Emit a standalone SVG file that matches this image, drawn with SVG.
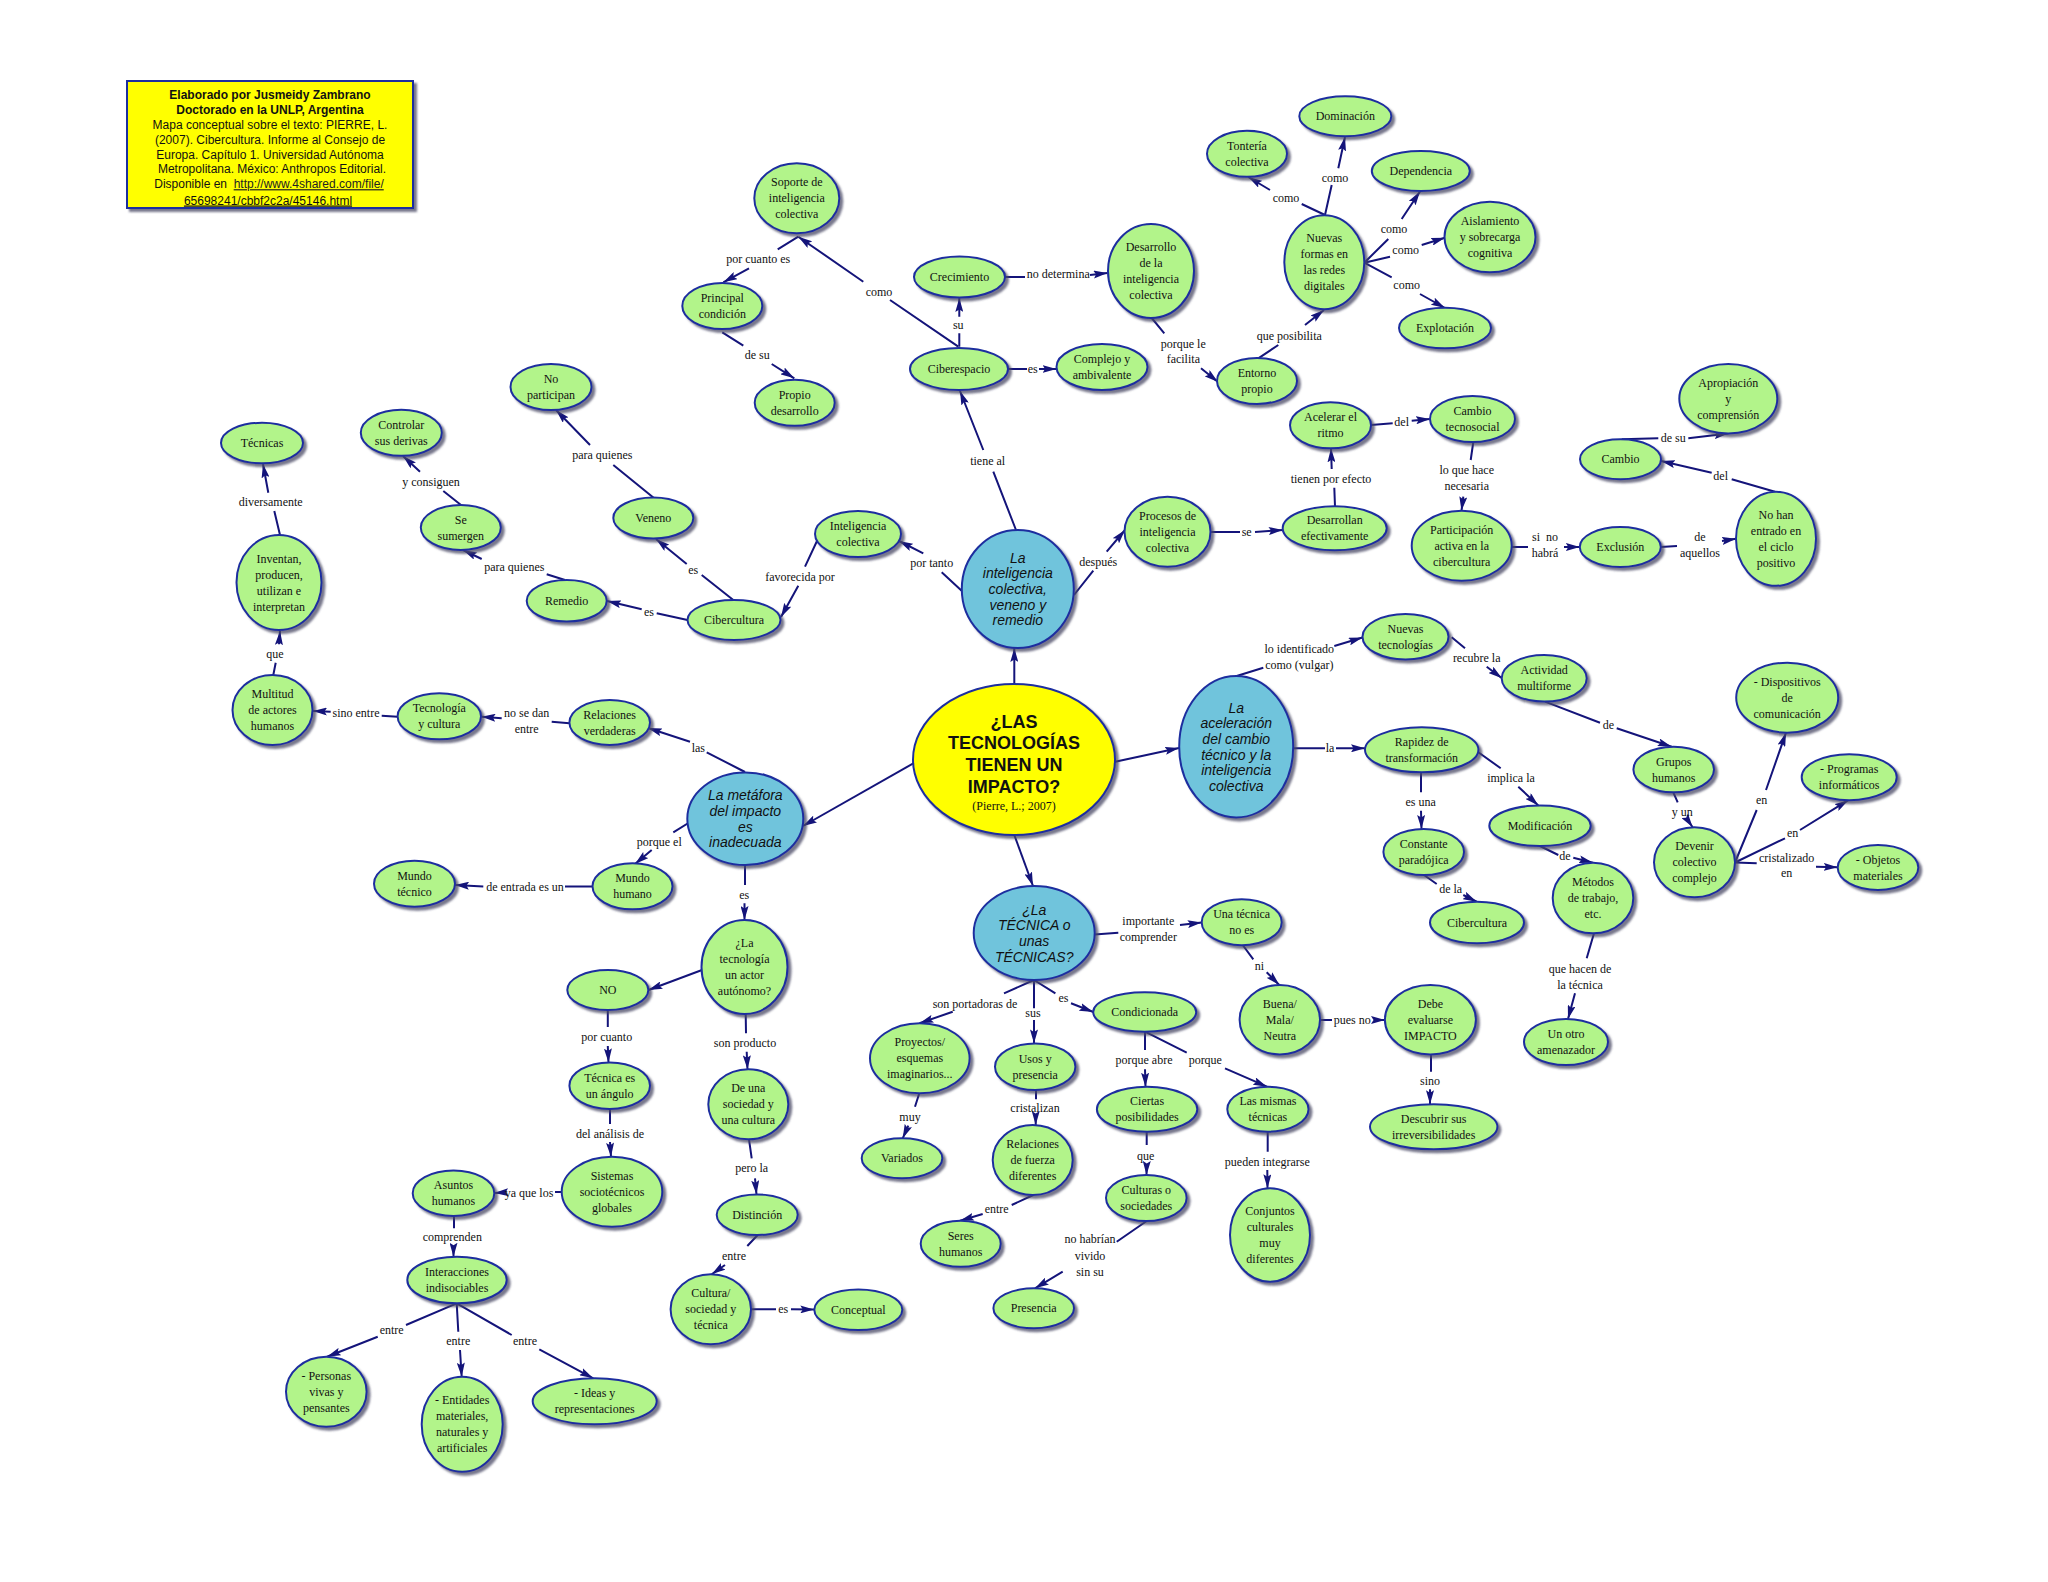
<svg xmlns="http://www.w3.org/2000/svg" width="2048" height="1582" viewBox="0 0 2048 1582">
<defs>
<filter id="sh" x="-20%" y="-20%" width="150%" height="150%"><feDropShadow dx="3" dy="3" stdDeviation="1.3" flood-color="#4a4a66" flood-opacity="0.75"/></filter>
<marker id="ar" viewBox="0 0 14 8" refX="14" refY="4" markerWidth="14" markerHeight="8" markerUnits="userSpaceOnUse" orient="auto"><path d="M0,0 L14,4 L0,8 L2.5,4 z" fill="#14147a"/></marker>
</defs>
<style>
.n ellipse{fill:#b2f48a;stroke:#1f2f9f;stroke-width:2;filter:url(#sh)}
.b ellipse{fill:#70c4dc}
.y ellipse{fill:#ffff00}
.n text{font-family:"Liberation Serif","Times New Roman",serif;font-size:12px;text-anchor:middle;fill:#111}
.b text{font-family:"Liberation Sans",Arial,sans-serif;font-style:italic;font-size:14px}
.y text{font-family:"Liberation Sans",Arial,sans-serif;font-weight:bold;font-size:18px}
.y text.cit{font-family:"Liberation Serif",serif;font-weight:normal;font-size:12px}
#connectors path{fill:none;stroke:#14147a;stroke-width:2;marker-end:url(#ar)}
#connectors text{font-family:"Liberation Serif","Times New Roman",serif;font-size:12px;text-anchor:middle;fill:#111}
#title text{font-family:"Liberation Sans",Arial,sans-serif;font-size:12px;text-anchor:middle;fill:#111}
</style>
<rect width="2048" height="1582" fill="#ffffff"/>
<g id="title">
<rect x="127" y="81" width="286" height="127" fill="#ffff00" stroke="#1f2f9f" stroke-width="2" filter="url(#sh)"/>
<text x="270" y="98.8" font-weight="bold">Elaborado por Jusmeidy Zambrano</text>
<text x="270" y="113.8" font-weight="bold">Doctorado en la UNLP, Argentina</text>
<text x="270" y="128.5">Mapa conceptual sobre el texto: PIERRE, L.</text>
<text x="270" y="143.5">(2007). Cibercultura. Informe al Consejo de</text>
<text x="270" y="158.5">Europa. Capítulo 1. Universidad Autónoma</text>
<text x="272" y="173.2">Metropolitana. México: Anthropos Editorial.</text>
<text x="269" y="188.2">Disponible en&#160;&#160;<tspan text-decoration="underline" fill="#222">http://www.4shared.com/file/</tspan></text>
<text x="268" y="204.5" text-decoration="underline" fill="#222">65698241/cbbf2c2a/45146.html</text>
</g>
<g id="connectors">
<path d="M958.3,346.7 L890,300 M863.3,281.7 L798.3,236.7"/><text x="879" y="295.7">como</text>
<path d="M798.3,236.7 L777.7,249.3 M749,268.3 L723.3,282.3"/><text x="758.3" y="263.3">por cuanto es</text>
<path d="M722.3,332.3 L743.3,345.7 M771.7,364 L794.3,378.3"/><text x="757.3" y="359">de su</text>
<path d="M959.3,346.7 L959.3,333.3 M959.3,316.7 L959.3,298"/><text x="958.3" y="329">su</text>
<path d="M1005,277 L1025,277 M1090,275 L1107.5,273"/><text x="1058.3" y="278.3">no determina</text>
<path d="M1008,369 L1027,369 M1039,369 L1056.5,369"/><text x="1032.7" y="373">es</text>
<path d="M1151.7,318 L1164.3,333.3 M1201,368.3 L1218,382"/><text x="1183.3" y="348">porque le<tspan x="1183.3" dy="15">facilita</tspan></text>
<path d="M1258.3,358.3 L1278.3,345 M1305,325 L1324,310"/><text x="1289.3" y="339.7">que posibilita</text>
<path d="M1325,215 L1301.7,204 M1270,190 L1248.3,177"/><text x="1286" y="202.3">como</text>
<path d="M1325,215 L1331.7,185 M1338.3,168.3 L1345,137"/><text x="1335" y="182.3">como</text>
<path d="M1364.3,262.7 L1388.3,239 M1401.7,219 L1420,191.5"/><text x="1394" y="233.3">como</text>
<path d="M1364.3,262.7 L1390,256.7 M1421.7,245 L1445,237.7"/><text x="1405.7" y="254.3">como</text>
<path d="M1364.3,262.7 L1391.7,277.3 M1420,294 L1445,308"/><text x="1406.7" y="289">como</text>
<path d="M1016,530 L993.3,471.7 M983.3,450 L960,391"/><text x="987.7" y="465">tiene al</text>
<path d="M963,592 L941.7,572.3 M923.3,553.3 L899,541"/><text x="931.7" y="567.3">por tanto</text>
<path d="M817,541 L805,566.7 M798.3,585.7 L781,617"/><text x="800" y="580.7">favorecida por</text>
<path d="M733.3,600 L701.7,575 M686.7,564 L656,539"/><text x="693.3" y="574">es</text>
<path d="M687.5,620 L656.7,613.3 M641.7,609.3 L607,601"/><text x="649" y="615.7">es</text>
<path d="M653.3,497.5 L613.3,465 M590,445 L556,410"/><text x="602.3" y="459">para quienes</text>
<path d="M565,580 L546.7,574.3 M481.7,559 L463,550"/><text x="514.3" y="571.3">para quienes</text>
<path d="M461,505 L443.3,491 M420,471.7 L403,456"/><text x="431" y="486">y consiguen</text>
<path d="M280,535 L274.3,511 M268.3,492.7 L263,464"/><text x="270.7" y="505.7">diversamente</text>
<path d="M273.3,675 L275.7,662.7 M279,644.3 L280,631"/><text x="275" y="658.3">que</text>
<path d="M397.7,716.7 L381.7,715.7 M330.7,711.7 L313,711"/><text x="356" y="717.3">sino entre</text>
<path d="M569.3,723.3 L551.7,721.7 M501.7,718.3 L481.5,716.7"/><text x="526.7" y="717">no se dan<tspan x="526.7" dy="16">entre</tspan></text>
<path d="M745,772 L706.7,752.3 M690,741.7 L648,728"/><text x="698.3" y="752.3">las</text>
<path d="M913.3,763.3 L803,826"/>
<path d="M690,822 L673.3,832.3 M651.7,850 L635,864"/><text x="659.3" y="845.7">porque el</text>
<path d="M592.5,886.5 L565,886.5 M483.3,886.5 L455,885"/><text x="525" y="890.7">de entrada es un</text>
<path d="M745,865 L745,885 M744.5,903.3 L744.5,920"/><text x="744.3" y="899">es</text>
<path d="M702,970 L648.5,990"/>
<path d="M607.8,1010 L607.8,1027 M607.8,1046 L608.5,1062.4"/><text x="606.7" y="1041.3">por cuanto</text>
<path d="M610,1109 L610,1124 M610,1142 L611,1156.7"/><text x="610" y="1138">del análisis de</text>
<path d="M561.7,1192 L555,1192 M503,1192.5 L494.3,1193"/><text x="529" y="1196.7">ya que los</text>
<path d="M454,1216 L454,1228.3 M453.5,1246.7 L453.5,1256.7"/><text x="452.3" y="1241">comprenden</text>
<path d="M456.7,1303.3 L406,1325 M377.7,1336.7 L327,1356.7"/><text x="391.7" y="1334">entre</text>
<path d="M456.7,1303.3 L458.3,1331.7 M460,1350 L461.7,1376.7"/><text x="458.3" y="1345">entre</text>
<path d="M456.7,1303.3 L511.7,1335 M539.3,1349.3 L593.3,1378.3"/><text x="525" y="1345">entre</text>
<path d="M745.7,1014 L746,1033.3 M746.7,1051.7 L747.5,1069.3"/><text x="745" y="1047.3">son producto</text>
<path d="M749,1139.3 L751.7,1158.3 M755,1178.3 L756.5,1194.4"/><text x="751.7" y="1172.3">pero la</text>
<path d="M757.7,1235 L747.3,1246 M725,1265 L711.7,1274.3"/><text x="734" y="1260">entre</text>
<path d="M751,1309.3 L776,1309.3 M791,1309.3 L814.3,1309.5"/><text x="783.3" y="1313.3">es</text>
<path d="M1014.3,835 L1033,886"/>
<path d="M1114,762 L1179,748"/>
<path d="M1014.3,684 L1014.3,648"/>
<path d="M1074,595 L1093.3,570.7 M1106.7,551.7 L1125,530"/><text x="1098.3" y="566.3">después</text>
<path d="M1210.5,532 L1240,532 M1255,532 L1282.7,530"/><text x="1246.7" y="536.3">se</text>
<path d="M1335,506.3 L1334.3,487.7 M1331.7,469 L1331,448.3"/><text x="1331" y="482.7">tienen por efecto</text>
<path d="M1371,425 L1392.7,423.3 M1411.7,420.7 L1430,419"/><text x="1401.7" y="425.7">del</text>
<path d="M1473.3,442 L1470.7,460 M1463.3,496.7 L1461.5,510.7"/><text x="1466.7" y="474">lo que hace<tspan x="1466.7" dy="16.3">necesaria</tspan></text>
<path d="M1511.7,547 L1528,547 M1564,547 L1579.8,547"/><text x="1545" y="540.7">si&#160;&#160;no<tspan x="1545" dy="16.6">habrá</tspan></text>
<path d="M1660.8,547 L1677,546 M1722,541 L1736,538.8"/><text x="1700" y="540.7">de<tspan x="1700" dy="16.6">aquellos</tspan></text>
<path d="M1775,491.7 L1731.7,479.3 M1711.7,472.7 L1661,461"/><text x="1720.7" y="479.7">del</text>
<path d="M1621.7,439.3 L1658.3,438.3 M1688.3,438.3 L1728.3,433.5"/><text x="1673.3" y="442.3">de su</text>
<path d="M1236.7,676 L1263.3,667.7 M1334.3,646 L1362.5,637.5"/><text x="1299.3" y="653.3">lo identificado<tspan x="1299.3" dy="15.7">como (vulgar)</tspan></text>
<path d="M1451.7,637.3 L1465,648.3 M1486.7,666.7 L1502,678.3"/><text x="1476.7" y="661.7">recubre la</text>
<path d="M1545,701.6 L1600,722.7 M1616.7,728.3 L1671.7,746.7"/><text x="1608.3" y="729">de</text>
<path d="M1673.3,792.3 L1677.7,802.3 M1688.3,821 L1692.7,827.3"/><text x="1682.3" y="816.3">y un</text>
<path d="M1735,862.5 L1756.7,810 M1766,790 L1786,732.7"/><text x="1761.7" y="804">en</text>
<path d="M1735,862.5 L1785,838.3 M1800,830 L1848.3,800.2"/><text x="1792.7" y="837.3">en</text>
<path d="M1735,862.5 L1756.7,863.3 M1816,866.7 L1837.7,867.3"/><text x="1786.7" y="861.7">cristalizado<tspan x="1786.7" dy="15.6">en</tspan></text>
<path d="M1293.2,748.3 L1325,748.3 M1336,748.3 L1365,748.3"/><text x="1330" y="752.3">la</text>
<path d="M1421,772.3 L1421,792.3 M1421,810.7 L1421.5,829"/><text x="1420.7" y="805.7">es una</text>
<path d="M1424,875 L1436.7,884 M1463.3,895 L1476.7,901.7"/><text x="1450.7" y="893.3">de la</text>
<path d="M1478,752 L1500.7,768.3 M1518.3,786.7 L1538.3,805.6"/><text x="1511" y="781.7">implica la</text>
<path d="M1540,846 L1558.3,855 M1573.3,857.7 L1593,862.7"/><text x="1565" y="860">de</text>
<path d="M1594,933.3 L1586.7,958.3 M1575,993.3 L1568,1019"/><text x="1580" y="973">que hacen de<tspan x="1580" dy="16">la técnica</tspan></text>
<path d="M1094.5,934.5 L1118.3,932.7 M1180,925 L1201.7,922.5"/><text x="1148.3" y="924.7">importante<tspan x="1148.3" dy="16">comprender</tspan></text>
<path d="M1242.7,945 L1253.3,959.3 M1266.7,972.3 L1279.3,985"/><text x="1259.3" y="970">ni</text>
<path d="M1320,1020 L1332,1020 M1374.6,1020 L1385,1020"/><text x="1352.2" y="1024">pues no</text>
<path d="M1431,1054.4 L1431,1071.7 M1430,1089.3 L1430,1104.3"/><text x="1430" y="1085">sino</text>
<path d="M1034,980 L1004,993.3 M952.7,1011.7 L919.5,1023.3"/><text x="975" y="1008">son portadoras de</text>
<path d="M1034,980 L1034,1008.3 M1034,1020 L1034,1043.4"/><text x="1033" y="1017.3">sus</text>
<path d="M1034,980 L1055.4,993.3 M1071,1003.3 L1093.3,1012"/><text x="1063.4" y="1001.7">es</text>
<path d="M919.3,1093.3 L915,1106.7 M908.3,1125.7 L902.7,1138.3"/><text x="910" y="1120.7">muy</text>
<path d="M1036,1090 L1036,1099.3 M1035.7,1117.3 L1035.7,1125"/><text x="1035" y="1112.3">cristalizan</text>
<path d="M1033.3,1195 L1011.7,1205 M982.7,1214 L960,1220.8"/><text x="996.7" y="1213.3">entre</text>
<path d="M1145,1031.7 L1145,1050 M1145,1069.3 L1145.5,1086.7"/><text x="1144" y="1064">porque abre</text>
<path d="M1145,1031.7 L1186.7,1052.7 M1225,1068.3 L1267,1086.7"/><text x="1205.3" y="1064">porque</text>
<path d="M1146.7,1131.7 L1146.7,1145 M1146.7,1165 L1146.5,1175"/><text x="1145.7" y="1159.7">que</text>
<path d="M1146.7,1221 L1116.7,1241.7 M1062.7,1271.7 L1035,1288.3"/><text x="1090" y="1243.3">no habrían<tspan x="1090" dy="16.3">vivido</tspan><tspan x="1090" dy="16">sin su</tspan></text>
<path d="M1267.7,1131.7 L1267.7,1151.7 M1267.3,1170 L1267.5,1188.3"/><text x="1267.3" y="1165.7">pueden integrarse</text>
</g>
<g id="n-central" class="n y"><ellipse cx="1014" cy="759.5" rx="101" ry="75.5"/><text x="1014" y="727.5">¿LAS<tspan x="1014" dy="21.7">TECNOLOGÍAS</tspan><tspan x="1014" dy="21.7">TIENEN UN</tspan><tspan x="1014" dy="21.7">IMPACTO?</tspan></text><text class="cit" x="1014" y="810">(Pierre, L.; 2007)</text></g>
<g id="n-blueic" class="n b"><ellipse cx="1017.8" cy="589" rx="56" ry="59"/><text x="1017.8" y="562.6">La<tspan x="1017.8" dy="15.7">inteligencia</tspan><tspan x="1017.8" dy="15.7">colectiva,</tspan><tspan x="1017.8" dy="15.7">veneno y</tspan><tspan x="1017.8" dy="15.7">remedio</tspan></text></g>
<g id="n-metafora" class="n b"><ellipse cx="745.3" cy="818.7" rx="58" ry="46.3"/><text x="745.3" y="800.2">La metáfora<tspan x="745.3" dy="15.7">del impacto</tspan><tspan x="745.3" dy="15.7">es</tspan><tspan x="745.3" dy="15.7">inadecuada</tspan></text></g>
<g id="n-aceleracion" class="n b"><ellipse cx="1236.2" cy="746.7" rx="57" ry="70.7"/><text x="1236.2" y="712.5">La<tspan x="1236.2" dy="15.7">aceleración</tspan><tspan x="1236.2" dy="15.7">del cambio</tspan><tspan x="1236.2" dy="15.7">técnico y la</tspan><tspan x="1236.2" dy="15.7">inteligencia</tspan><tspan x="1236.2" dy="15.7">colectiva</tspan></text></g>
<g id="n-tecnica" class="n b"><ellipse cx="1034.2" cy="933" rx="60.5" ry="47"/><text x="1034.2" y="914.5">¿La<tspan x="1034.2" dy="15.7">TÉCNICA o</tspan><tspan x="1034.2" dy="15.7">unas</tspan><tspan x="1034.2" dy="15.7">TÉCNICAS?</tspan></text></g>
<g id="n-soporte" class="n"><ellipse cx="796.8" cy="198.3" rx="42.5" ry="35"/><text x="796.8" y="186.3">Soporte de<tspan x="796.8" dy="16">inteligencia</tspan><tspan x="796.8" dy="16">colectiva</tspan></text></g>
<g id="n-principal" class="n"><ellipse cx="722.3" cy="306" rx="40" ry="23"/><text x="722.3" y="302">Principal<tspan x="722.3" dy="16">condición</tspan></text></g>
<g id="n-propio" class="n"><ellipse cx="794.7" cy="402.8" rx="40" ry="23"/><text x="794.7" y="398.8">Propio<tspan x="794.7" dy="16">desarrollo</tspan></text></g>
<g id="n-crecimiento" class="n"><ellipse cx="959.5" cy="277" rx="45.5" ry="20.5"/><text x="959.5" y="281">Crecimiento</text></g>
<g id="n-ciberespacio" class="n"><ellipse cx="959" cy="369" rx="49" ry="21"/><text x="959" y="373">Ciberespacio</text></g>
<g id="n-noparticipan" class="n"><ellipse cx="551" cy="387" rx="40.5" ry="23"/><text x="551" y="383">No<tspan x="551" dy="16">participan</tspan></text></g>
<g id="n-veneno" class="n"><ellipse cx="653.3" cy="518" rx="40" ry="20.5"/><text x="653.3" y="522">Veneno</text></g>
<g id="n-intcol" class="n"><ellipse cx="858" cy="534" rx="43" ry="23"/><text x="858" y="530">Inteligencia<tspan x="858" dy="16">colectiva</tspan></text></g>
<g id="n-dominacion" class="n"><ellipse cx="1345.3" cy="116.3" rx="46" ry="20"/><text x="1345.3" y="120.3">Dominación</text></g>
<g id="n-tonteria" class="n"><ellipse cx="1247" cy="153.8" rx="40" ry="23"/><text x="1247" y="149.8">Tontería<tspan x="1247" dy="16">colectiva</tspan></text></g>
<g id="n-dependencia" class="n"><ellipse cx="1420.8" cy="171" rx="49" ry="20"/><text x="1420.8" y="175">Dependencia</text></g>
<g id="n-nuevasformas" class="n"><ellipse cx="1324.3" cy="262.2" rx="40" ry="47"/><text x="1324.3" y="242.2">Nuevas<tspan x="1324.3" dy="16">formas en</tspan><tspan x="1324.3" dy="16">las redes</tspan><tspan x="1324.3" dy="16">digitales</tspan></text></g>
<g id="n-aislamiento" class="n"><ellipse cx="1490" cy="237" rx="45.5" ry="35.3"/><text x="1490" y="225">Aislamiento<tspan x="1490" dy="16">y sobrecarga</tspan><tspan x="1490" dy="16">cognitiva</tspan></text></g>
<g id="n-explotacion" class="n"><ellipse cx="1445" cy="328" rx="46" ry="20.3"/><text x="1445" y="332">Explotación</text></g>
<g id="n-desarrolloic" class="n"><ellipse cx="1151" cy="271" rx="43" ry="47"/><text x="1151" y="251">Desarrollo<tspan x="1151" dy="16">de la</tspan><tspan x="1151" dy="16">inteligencia</tspan><tspan x="1151" dy="16">colectiva</tspan></text></g>
<g id="n-complejo" class="n"><ellipse cx="1102" cy="367" rx="45.5" ry="23"/><text x="1102" y="363">Complejo y<tspan x="1102" dy="16">ambivalente</tspan></text></g>
<g id="n-entorno" class="n"><ellipse cx="1257" cy="381" rx="40" ry="23"/><text x="1257" y="377">Entorno<tspan x="1257" dy="16">propio</tspan></text></g>
<g id="n-acelerar" class="n"><ellipse cx="1330.5" cy="425.3" rx="40.5" ry="23"/><text x="1330.5" y="421.3">Acelerar el<tspan x="1330.5" dy="16">ritmo</tspan></text></g>
<g id="n-cambiotec" class="n"><ellipse cx="1472.5" cy="419" rx="42.5" ry="23"/><text x="1472.5" y="415">Cambio<tspan x="1472.5" dy="16">tecnosocial</tspan></text></g>
<g id="n-procesos" class="n"><ellipse cx="1167.5" cy="531.7" rx="43" ry="35"/><text x="1167.5" y="519.7">Procesos de<tspan x="1167.5" dy="16">inteligencia</tspan><tspan x="1167.5" dy="16">colectiva</tspan></text></g>
<g id="n-desarrollan" class="n"><ellipse cx="1334.7" cy="528.3" rx="52" ry="22"/><text x="1334.7" y="524.3">Desarrollan<tspan x="1334.7" dy="16">efectivamente</tspan></text></g>
<g id="n-participacion" class="n"><ellipse cx="1461.7" cy="545.7" rx="50" ry="35"/><text x="1461.7" y="533.7">Participación<tspan x="1461.7" dy="16">activa en la</tspan><tspan x="1461.7" dy="16">cibercultura</tspan></text></g>
<g id="n-exclusion" class="n"><ellipse cx="1620.3" cy="547" rx="40.5" ry="20"/><text x="1620.3" y="551">Exclusión</text></g>
<g id="n-nohan" class="n"><ellipse cx="1776" cy="538.8" rx="40" ry="47"/><text x="1776" y="518.8">No han<tspan x="1776" dy="16">entrado en</tspan><tspan x="1776" dy="16">el ciclo</tspan><tspan x="1776" dy="16">positivo</tspan></text></g>
<g id="n-cambio" class="n"><ellipse cx="1620.5" cy="459.3" rx="40.5" ry="20"/><text x="1620.5" y="463.3">Cambio</text></g>
<g id="n-apropiacion" class="n"><ellipse cx="1728.3" cy="398.7" rx="49" ry="34.7"/><text x="1728.3" y="386.7">Apropiación<tspan x="1728.3" dy="16">y</tspan><tspan x="1728.3" dy="16">comprensión</tspan></text></g>
<g id="n-tecnicas" class="n"><ellipse cx="262" cy="443" rx="41" ry="20.3"/><text x="262" y="447">Técnicas</text></g>
<g id="n-controlar" class="n"><ellipse cx="401.3" cy="432.8" rx="40.5" ry="23"/><text x="401.3" y="428.8">Controlar<tspan x="401.3" dy="16">sus derivas</tspan></text></g>
<g id="n-sesumergen" class="n"><ellipse cx="460.8" cy="527.5" rx="40" ry="22.5"/><text x="460.8" y="523.5">Se<tspan x="460.8" dy="16">sumergen</tspan></text></g>
<g id="n-inventan" class="n"><ellipse cx="279" cy="582.5" rx="42.5" ry="47.5"/><text x="279" y="562.5">Inventan,<tspan x="279" dy="16">producen,</tspan><tspan x="279" dy="16">utilizan e</tspan><tspan x="279" dy="16">interpretan</tspan></text></g>
<g id="n-remedio" class="n"><ellipse cx="566.7" cy="600.8" rx="40" ry="20.8"/><text x="566.7" y="604.8">Remedio</text></g>
<g id="n-cibercultura1" class="n"><ellipse cx="734" cy="620" rx="46.5" ry="20"/><text x="734" y="624">Cibercultura</text></g>
<g id="n-multitud" class="n"><ellipse cx="272.5" cy="710" rx="40" ry="35"/><text x="272.5" y="698">Multitud<tspan x="272.5" dy="16">de actores</tspan><tspan x="272.5" dy="16">humanos</tspan></text></g>
<g id="n-tecycult" class="n"><ellipse cx="439.3" cy="716.3" rx="41.7" ry="23"/><text x="439.3" y="712.3">Tecnología<tspan x="439.3" dy="16">y cultura</tspan></text></g>
<g id="n-relverdaderas" class="n"><ellipse cx="609.7" cy="722.5" rx="40.3" ry="22.5"/><text x="609.7" y="718.5">Relaciones<tspan x="609.7" dy="16">verdaderas</tspan></text></g>
<g id="n-mundotec" class="n"><ellipse cx="414.5" cy="883.7" rx="40.5" ry="23"/><text x="414.5" y="879.7">Mundo<tspan x="414.5" dy="16">técnico</tspan></text></g>
<g id="n-mundohum" class="n"><ellipse cx="632.5" cy="886.3" rx="40" ry="23"/><text x="632.5" y="882.3">Mundo<tspan x="632.5" dy="16">humano</tspan></text></g>
<g id="n-latecnologia" class="n"><ellipse cx="744.5" cy="967" rx="43" ry="47"/><text x="744.5" y="947">¿La<tspan x="744.5" dy="16">tecnología</tspan><tspan x="744.5" dy="16">un actor</tspan><tspan x="744.5" dy="16">autónomo?</tspan></text></g>
<g id="n-no" class="n"><ellipse cx="607.8" cy="990" rx="40.5" ry="20"/><text x="607.8" y="994">NO</text></g>
<g id="n-nuevastec" class="n"><ellipse cx="1405.5" cy="636.7" rx="43" ry="22.7"/><text x="1405.5" y="632.7">Nuevas<tspan x="1405.5" dy="16">tecnologías</tspan></text></g>
<g id="n-rapidez" class="n"><ellipse cx="1421.7" cy="749.8" rx="56.7" ry="22.5"/><text x="1421.7" y="745.8">Rapidez de<tspan x="1421.7" dy="16">transformación</tspan></text></g>
<g id="n-constante" class="n"><ellipse cx="1423.7" cy="852" rx="40.3" ry="23"/><text x="1423.7" y="848">Constante<tspan x="1423.7" dy="16">paradójica</tspan></text></g>
<g id="n-cibercultura2" class="n"><ellipse cx="1477" cy="922.5" rx="47" ry="20.8"/><text x="1477" y="926.5">Cibercultura</text></g>
<g id="n-modificacion" class="n"><ellipse cx="1540" cy="825.8" rx="50.7" ry="20.2"/><text x="1540" y="829.8">Modificación</text></g>
<g id="n-metodos" class="n"><ellipse cx="1593" cy="898" rx="40.3" ry="35.3"/><text x="1593" y="886">Métodos<tspan x="1593" dy="16">de trabajo,</tspan><tspan x="1593" dy="16">etc.</tspan></text></g>
<g id="n-actividad" class="n"><ellipse cx="1544.2" cy="678.3" rx="42.5" ry="23.3"/><text x="1544.2" y="674.3">Actividad<tspan x="1544.2" dy="16">multiforme</tspan></text></g>
<g id="n-grupos" class="n"><ellipse cx="1673.7" cy="769.5" rx="40.3" ry="22.8"/><text x="1673.7" y="765.5">Grupos<tspan x="1673.7" dy="16">humanos</tspan></text></g>
<g id="n-devenir" class="n"><ellipse cx="1694.5" cy="862.3" rx="40.5" ry="35"/><text x="1694.5" y="850.3">Devenir<tspan x="1694.5" dy="16">colectivo</tspan><tspan x="1694.5" dy="16">complejo</tspan></text></g>
<g id="n-dispositivos" class="n"><ellipse cx="1787.2" cy="697.7" rx="51" ry="35"/><text x="1787.2" y="685.7">- Dispositivos<tspan x="1787.2" dy="16">de</tspan><tspan x="1787.2" dy="16">comunicación</tspan></text></g>
<g id="n-programas" class="n"><ellipse cx="1849.2" cy="777.2" rx="47.5" ry="23"/><text x="1849.2" y="773.2">- Programas<tspan x="1849.2" dy="16">informáticos</tspan></text></g>
<g id="n-objetos" class="n"><ellipse cx="1878" cy="867.5" rx="40.3" ry="22.5"/><text x="1878" y="863.5">- Objetos<tspan x="1878" dy="16">materiales</tspan></text></g>
<g id="n-unatecnica" class="n"><ellipse cx="1241.7" cy="922.2" rx="40" ry="23"/><text x="1241.7" y="918.2">Una técnica<tspan x="1241.7" dy="16">no es</tspan></text></g>
<g id="n-condicionada" class="n"><ellipse cx="1144.7" cy="1012" rx="51.5" ry="19.7"/><text x="1144.7" y="1016">Condicionada</text></g>
<g id="n-buena" class="n"><ellipse cx="1279.8" cy="1019.7" rx="40.2" ry="34.7"/><text x="1279.8" y="1007.7">Buena/<tspan x="1279.8" dy="16">Mala/</tspan><tspan x="1279.8" dy="16">Neutra</tspan></text></g>
<g id="n-debe" class="n"><ellipse cx="1430.4" cy="1019.7" rx="45.5" ry="34.7"/><text x="1430.4" y="1007.7">Debe<tspan x="1430.4" dy="16">evaluarse</tspan><tspan x="1430.4" dy="16">IMPACTO</tspan></text></g>
<g id="n-descubrir" class="n"><ellipse cx="1433.7" cy="1126.8" rx="63.7" ry="22.5"/><text x="1433.7" y="1122.8">Descubrir sus<tspan x="1433.7" dy="16">irreversibilidades</tspan></text></g>
<g id="n-proyectos" class="n"><ellipse cx="919.8" cy="1058.3" rx="49.8" ry="35"/><text x="919.8" y="1046.3">Proyectos/<tspan x="919.8" dy="16">esquemas</tspan><tspan x="919.8" dy="16">imaginarios...</tspan></text></g>
<g id="n-usos" class="n"><ellipse cx="1035.2" cy="1066.7" rx="40.2" ry="23.3"/><text x="1035.2" y="1062.7">Usos y<tspan x="1035.2" dy="16">presencia</tspan></text></g>
<g id="n-ciertas" class="n"><ellipse cx="1147.1" cy="1109.2" rx="50.2" ry="22.5"/><text x="1147.1" y="1105.2">Ciertas<tspan x="1147.1" dy="16">posibilidades</tspan></text></g>
<g id="n-lasmismas" class="n"><ellipse cx="1267.9" cy="1109.2" rx="40.6" ry="22.5"/><text x="1267.9" y="1105.2">Las mismas<tspan x="1267.9" dy="16">técnicas</tspan></text></g>
<g id="n-unotro" class="n"><ellipse cx="1566" cy="1042" rx="42" ry="23"/><text x="1566" y="1038">Un otro<tspan x="1566" dy="16">amenazador</tspan></text></g>
<g id="n-tecangulo" class="n"><ellipse cx="609.7" cy="1085.7" rx="40.3" ry="23.3"/><text x="609.7" y="1081.7">Técnica es<tspan x="609.7" dy="16">un ángulo</tspan></text></g>
<g id="n-sistemas" class="n"><ellipse cx="612" cy="1191.7" rx="50.3" ry="35"/><text x="612" y="1179.7">Sistemas<tspan x="612" dy="16">sociotécnicos</tspan><tspan x="612" dy="16">globales</tspan></text></g>
<g id="n-asuntos" class="n"><ellipse cx="453.5" cy="1193.3" rx="40.8" ry="22.7"/><text x="453.5" y="1189.3">Asuntos<tspan x="453.5" dy="16">humanos</tspan></text></g>
<g id="n-interacciones" class="n"><ellipse cx="457" cy="1280" rx="49.7" ry="23.3"/><text x="457" y="1276">Interacciones<tspan x="457" dy="16">indisociables</tspan></text></g>
<g id="n-personas" class="n"><ellipse cx="326.3" cy="1391.7" rx="40.3" ry="35"/><text x="326.3" y="1379.7">- Personas<tspan x="326.3" dy="16">vivas y</tspan><tspan x="326.3" dy="16">pensantes</tspan></text></g>
<g id="n-entidades" class="n"><ellipse cx="462.2" cy="1424.2" rx="40.5" ry="47.5"/><text x="462.2" y="1404.2">- Entidades<tspan x="462.2" dy="16">materiales,</tspan><tspan x="462.2" dy="16">naturales y</tspan><tspan x="462.2" dy="16">artificiales</tspan></text></g>
<g id="n-ideas" class="n"><ellipse cx="594.7" cy="1401.3" rx="62" ry="23"/><text x="594.7" y="1397.3">- Ideas y<tspan x="594.7" dy="16">representaciones</tspan></text></g>
<g id="n-deuna" class="n"><ellipse cx="748.3" cy="1104.3" rx="40" ry="35"/><text x="748.3" y="1092.3">De una<tspan x="748.3" dy="16">sociedad y</tspan><tspan x="748.3" dy="16">una cultura</tspan></text></g>
<g id="n-distincion" class="n"><ellipse cx="757.2" cy="1214.7" rx="40.5" ry="20.3"/><text x="757.2" y="1218.7">Distinción</text></g>
<g id="n-culturasoc" class="n"><ellipse cx="710.8" cy="1309.3" rx="40.2" ry="35"/><text x="710.8" y="1297.3">Cultura/<tspan x="710.8" dy="16">sociedad y</tspan><tspan x="710.8" dy="16">técnica</tspan></text></g>
<g id="n-conceptual" class="n"><ellipse cx="858.3" cy="1309.7" rx="44" ry="20.3"/><text x="858.3" y="1313.7">Conceptual</text></g>
<g id="n-variados" class="n"><ellipse cx="902" cy="1158.3" rx="40.3" ry="20"/><text x="902" y="1162.3">Variados</text></g>
<g id="n-relfuerza" class="n"><ellipse cx="1032.7" cy="1160" rx="40" ry="35"/><text x="1032.7" y="1148">Relaciones<tspan x="1032.7" dy="16">de fuerza</tspan><tspan x="1032.7" dy="16">diferentes</tspan></text></g>
<g id="n-seres" class="n"><ellipse cx="960.7" cy="1243.8" rx="40" ry="23"/><text x="960.7" y="1239.8">Seres<tspan x="960.7" dy="16">humanos</tspan></text></g>
<g id="n-presencia" class="n"><ellipse cx="1033.7" cy="1308.3" rx="40.3" ry="20"/><text x="1033.7" y="1312.3">Presencia</text></g>
<g id="n-culturaso" class="n"><ellipse cx="1146.3" cy="1198" rx="40.3" ry="23"/><text x="1146.3" y="1194">Culturas o<tspan x="1146.3" dy="16">sociedades</tspan></text></g>
<g id="n-conjuntos" class="n"><ellipse cx="1270" cy="1235" rx="40" ry="46.7"/><text x="1270" y="1215">Conjuntos<tspan x="1270" dy="16">culturales</tspan><tspan x="1270" dy="16">muy</tspan><tspan x="1270" dy="16">diferentes</tspan></text></g>
</svg>
